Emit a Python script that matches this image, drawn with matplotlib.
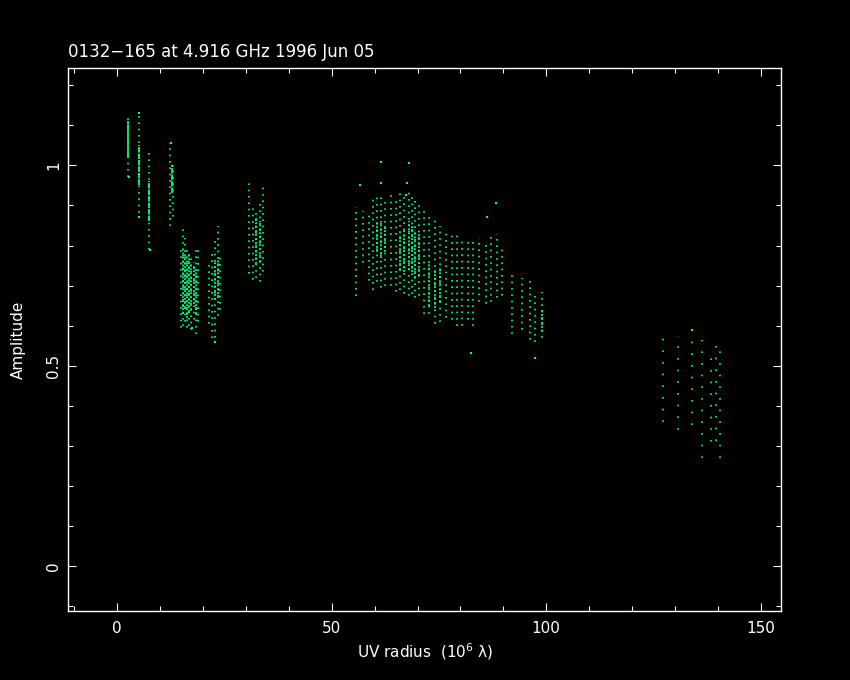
import matplotlib
matplotlib.use('Agg')
import matplotlib.pyplot as plt

# sparse tracks (uv radius, amplitude low, amplitude high)
track_x = [2.6, 5.1, 7.5, 12.4, 13.0,
           14.8, 15.3, 15.8, 16.3, 16.8, 17.3, 17.8, 18.3, 18.8,
           21.3, 22.0, 22.7, 23.4, 23.9,
           30.8, 31.6, 32.4, 33.2, 34.0,
           55.6, 57.2, 58.7, 59.7, 60.6, 61.4, 62.3, 63.7, 64.9, 65.9,
           66.8, 67.9, 68.6, 69.4, 70.3, 71.5, 72.7, 74.1, 75.2, 76.6,
           78.0, 79.1, 80.3, 81.7, 82.9, 84.4, 86.0, 87.1, 88.5, 89.6,
           92.1, 94.3, 96.1, 97.4, 98.9]
track_lo = [0.97, 0.87, 0.785, 0.85, 0.86,
            0.59, 0.60, 0.60, 0.59, 0.60, 0.58, 0.61, 0.58, 0.60,
            0.60, 0.57, 0.56, 0.62, 0.64,
            0.72, 0.71, 0.72, 0.70, 0.73,
            0.673, 0.747, 0.707, 0.69, 0.70, 0.69, 0.70, 0.69, 0.68, 0.69,
            0.67, 0.67, 0.68, 0.66, 0.67, 0.63, 0.62, 0.60, 0.61, 0.61,
            0.61, 0.60, 0.59, 0.61, 0.60, 0.65, 0.65, 0.66, 0.66, 0.67,
            0.58, 0.58, 0.56, 0.56, 0.56]
track_hi = [1.126, 1.13, 1.03, 1.055, 1.00,
            0.80, 0.85, 0.82, 0.80, 0.79, 0.77, 0.76, 0.79, 0.80,
            0.76, 0.79, 0.82, 0.85, 0.78,
            0.955, 0.90, 0.88, 0.91, 0.95,
            0.897, 0.885, 0.881, 0.92, 0.93, 0.92, 0.91, 0.93, 0.92, 0.93,
            0.92, 0.94, 0.93, 0.92, 0.91, 0.89, 0.88, 0.87, 0.85, 0.84,
            0.83, 0.83, 0.82, 0.81, 0.82, 0.82, 0.81, 0.83, 0.83, 0.80,
            0.73, 0.72, 0.72, 0.68, 0.685]

# solid segments of the short-baseline tracks
solid_x = [2.6, 5.1, 7.5, 12.7]
solid_lo = [1.02, 0.95, 0.86, 0.93]
solid_hi = [1.11, 1.05, 0.96, 1.00]

# dense cores of the tracks
core_x = [15.3, 15.8, 16.3, 16.8, 17.3, 17.8, 18.3,
          22.7, 23.4, 32.4, 33.2,
          60.6, 61.4, 62.3, 65.9, 66.8, 67.9, 68.6, 69.4, 70.3,
          72.7, 74.1, 75.2, 98.9]
core_lo = [0.63, 0.64, 0.62, 0.63, 0.64, 0.65, 0.63,
           0.66, 0.67, 0.75, 0.76,
           0.78, 0.77, 0.78, 0.74, 0.73, 0.74, 0.73, 0.72, 0.72,
           0.65, 0.64, 0.66, 0.58]
core_hi = [0.79, 0.78, 0.77, 0.78, 0.76, 0.75, 0.74,
           0.76, 0.77, 0.87, 0.86,
           0.86, 0.86, 0.85, 0.83, 0.84, 0.86, 0.85, 0.84, 0.83,
           0.76, 0.74, 0.75, 0.64]

# long-baseline tracks (sparser)
far_x = [127.2, 130.8, 133.9, 136.3, 138.4, 139.6, 140.5]
far_lo = [0.36, 0.32, 0.34, 0.27, 0.29, 0.30, 0.27]
far_hi = [0.583, 0.575, 0.577, 0.565, 0.54, 0.55, 0.56]

# isolated points
out_x = [2.7, 5.0, 5.1, 7.6, 12.5, 17.5, 22.8, 61.4, 67.9, 61.4, 67.6,
         67.3, 88.3, 86.1, 82.4, 97.4, 133.9, 56.5]
out_y = [0.97, 1.13, 0.87, 0.79, 1.055, 0.595, 0.56, 1.009, 1.005, 0.955,
         0.955, 0.925, 0.906, 0.872, 0.531, 0.52, 0.59, 0.95]

green = '#00ff80'

fig = plt.figure(figsize=(8.5, 6.8), dpi=100, facecolor='black')
ax = fig.add_axes([68.3/850, 1-611.3/680, 713/850, 543/680])
ax.set_facecolor('black')

# stagger the dot phase so neighbouring tracks don't line up
ax.vlines(track_x, track_lo, track_hi, colors=green,
          linestyles=[(k % 3 * 1.2, (1, 2.8)) for k in range(len(track_x))],
          linewidth=1.2)
ax.vlines(solid_x, solid_lo, solid_hi, colors=green,
          linestyles=(0, (3, 0.6)), linewidth=1.3)
ax.vlines(core_x, core_lo, core_hi, colors=green,
          linestyles=[(k % 2, (1, 1.2)) for k in range(len(core_x))],
          linewidth=1.3)
ax.vlines(far_x, far_lo, far_hi, colors=green,
          linestyles=[(k % 3 * 2, (1, 6)) for k in range(len(far_x))],
          linewidth=1.2)
ax.scatter(out_x, out_y, s=2, c=green, marker='s', linewidths=0)

ax.set_xlim(-11.42, 154.8)
ax.set_ylim(-0.112, 1.242)
ax.set_xticks([0, 50, 100, 150])
ax.set_xticks(range(-10, 155, 10), minor=True)
ax.set_yticks([0, 0.5, 1])
ax.set_yticks([i / 10 for i in range(-1, 13)], minor=True)
ax.set_xticklabels(['0', '50', '100', '150'])
ax.set_yticklabels(['0', '0.5', '1'], rotation=90, va='center')

for s in ax.spines.values():
    s.set_color('white')
    s.set_linewidth(1)
ax.tick_params(which='both', direction='in', top=True, right=True,
               colors='white', labelcolor='white', width=0.8, labelsize=11)
ax.tick_params(which='major', length=5.8)
ax.tick_params(which='minor', length=3.6)
ax.tick_params(axis='x', pad=7)
ax.tick_params(axis='y', pad=5)

fig.text(68.3/850, 1-56.7/680, '0132\u2212165 at 4.916 GHz 1996 Jun 05',
         color='white', fontsize=12, ha='left', va='baseline')
fig.text(424.8/850, 1-652/680, 'UV radius  (10$^{6}$ \u03bb)',
         color='white', fontsize=11, ha='center', va='center')
fig.text(18/850, 1-340/680, 'Amplitude', color='white', fontsize=11,
         ha='center', va='center', rotation=90)

fig.savefig('out.png', dpi=100, facecolor='black')
